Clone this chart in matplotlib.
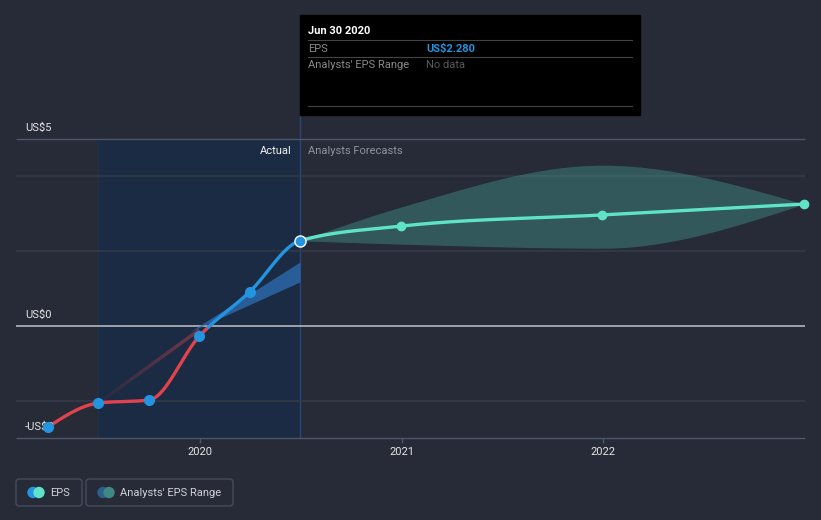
import numpy as np
import matplotlib
matplotlib.use("Agg")
import matplotlib.pyplot as plt
from matplotlib.patches import FancyBboxPatch, Rectangle, Circle
from matplotlib.collections import LineCollection

plt.rcParams['font.family'] = ['Roboto', 'DejaVu Sans']

# data (decimal years, EPS in US$)
actual_dates = [2019.246, 2019.496, 2019.747, 2019.997, 2020.246, 2020.496]
actual_eps = [-2.70, -2.06, -1.98, -0.27, 0.91, 2.28]
fc_dates = [2020.496, 2020.997, 2021.997, 2022.997]
fc_eps = [2.28, 2.67, 2.97, 3.26]
fc_low = [2.28, 2.19, 2.08, 3.26]
fc_high = [2.28, 3.18, 4.30, 3.26]
# past estimate band (Dec 2019 -> Jun 2020)
past_dates = [2019.95, 2020.496]
past_low = [-0.15, 1.18]
past_high = [-0.15, 1.71]
year_ticks = [2020, 2021, 2022]
y_labels = {5: "US$5", 0: "US$0", -3: "-US$3"}

bg = '#262b37'
blue = '#2394df'
red = '#e0434d'
teal = '#5fe3c6'


def monotone(x, y, n=400):
    # monotone cubic like d3.curveMonotoneX
    x = np.asarray(x, float); y = np.asarray(y, float)
    h = np.diff(x); d = np.diff(y) / h
    m = np.zeros_like(y)
    for k in range(1, len(x) - 1):
        if d[k - 1] * d[k] > 0:
            p = (d[k - 1] * h[k] + d[k] * h[k - 1]) / (h[k - 1] + h[k])
            m[k] = (np.sign(d[k - 1]) + np.sign(d[k])) * min(abs(d[k - 1]), abs(d[k]), 0.5 * abs(p))
    if len(x) > 2:
        m[0] = (3 * d[0] - m[1]) / 2
        m[-1] = (3 * d[-1] - m[-2]) / 2
    else:
        m[:] = d[0]
    xs = np.linspace(x[0], x[-1], n)
    idx = np.clip(np.searchsorted(x, xs) - 1, 0, len(x) - 2)
    t = (xs - x[idx]) / h[idx]
    h00 = 2 * t**3 - 3 * t**2 + 1; h10 = t**3 - 2 * t**2 + t
    h01 = -2 * t**3 + 3 * t**2; h11 = t**3 - t**2
    ys = h00 * y[idx] + h10 * h[idx] * m[idx] + h01 * y[idx + 1] + h11 * h[idx] * m[idx + 1]
    return xs, ys


W, H = 821, 520
fig = plt.figure(figsize=(W / 100, H / 100), dpi=100, facecolor=bg)

# data axes spanning the whole figure: x_px = 200 + (t-2020)*201.5, y_px = 326 - v*37.4
ax = fig.add_axes([0, 0, 1, 1])
ax.set_facecolor(bg)
ax.set_xlim(2020 - 200 / 201.5, 2020 + (W - 200) / 201.5)
ax.set_ylim(-(H - 326) / 37.4, 326 / 37.4)
ax.axis('off')

x0 = 2020 + (16 - 200) / 201.5
x1 = 2020 + (805 - 200) / 201.5

# actual region shading
ax.axvspan(actual_dates[1], actual_dates[-1], ymin=(326 - 438 + 194) / H,
           ymax=(H - 139) / H, color='#1c2b44', lw=0, zorder=0.5)
ax.vlines(actual_dates[1], -3, 5, color='#202f4c', lw=0.8, zorder=0.6)
ax.vlines(actual_dates[-1], -3, (326 - 115) / 37.4, color='#2b4577', lw=1, zorder=0.6)

# grid
ax.hlines([4, 2, -2], x0, x1, color='#343a48', lw=1.2, zorder=1)
ax.hlines(5, x0, x1, color='#4e5566', lw=1, zorder=1)
ax.hlines(0, x0, x1, color='#b4b6bc', lw=1.2, zorder=1)
ax.hlines(-3, x0, x1, color='#4e5566', lw=1, zorder=1)
for yr in year_ticks:
    ax.vlines(yr, -3, -3 - 5 / 37.4, color='#4e5566', lw=1, zorder=1)
    ax.text(yr, -3 - 14 / 37.4, str(yr), color='#e6e6e6', fontsize=8,
            ha='center', va='center')

# forecast range band
bx, bl = monotone(fc_dates, fc_low)
_, bh = monotone(fc_dates, fc_high)
ax.fill_between(bx, bl, bh, color='#4fb8ad', alpha=0.32, lw=0, zorder=2)

# past estimates: faint line and blue wedge
seg_x = np.linspace(actual_dates[1], 2019.997, 60)
seg_y = np.interp(seg_x, [actual_dates[1], 2019.997], [actual_eps[1], -0.1])
pts = np.array([seg_x, seg_y]).T.reshape(-1, 1, 2)
segs = np.concatenate([pts[:-1], pts[1:]], axis=1)
alphas = np.linspace(0.05, 0.55, len(segs))
cols = [(0.75, 0.25, 0.32, a) for a in alphas]
ax.add_collection(LineCollection(segs, colors=cols, linewidths=2.5, zorder=2))
ax.fill_between(past_dates, past_low, past_high, color='#2d6fb5', alpha=0.75, lw=0, zorder=2)

# one smooth curve through actual + forecast points, split at the last actual date
all_x = actual_dates + fc_dates[1:]
all_y = actual_eps + fc_eps[1:]
cx, cy = monotone(all_x, all_y, 1200)
past = cx <= actual_dates[-1]
ax_, ay_ = cx[past], cy[past]
ax.plot(ax_, np.where(ay_ <= 0.05, ay_, np.nan), color=red, lw=2.4, zorder=3,
        solid_capstyle='round')
ax.plot(ax_, np.where(ay_ >= -0.05, ay_, np.nan), color=blue, lw=2.4, zorder=3,
        solid_capstyle='round')
fut = cx >= actual_dates[-1] - 0.002
ax.plot(cx[fut], cy[fut], color=teal, lw=2.4, zorder=3)

ax.plot(fc_dates[1:], fc_eps[1:], 'o', color=teal, ms=6, zorder=4)
ax.plot(actual_dates[:-1], actual_eps[:-1], 'o', color=blue, ms=7, zorder=4)
ax.plot(actual_dates[-1], actual_eps[-1], 'o', color=blue, ms=8, mec='white',
        mew=1, zorder=5)

# y labels
label_y = {5: 5 + 11 / 37.4, 0: 11 / 37.4, -3: (326 - 427) / 37.4}
for v, s in y_labels.items():
    ax.text(2020 + (25 - 200) / 201.5, label_y[v], s, color='#e6e6e6',
            fontsize=8, ha='left', va='center', zorder=3.5)

# pixel-space overlay for annotations
ov = fig.add_axes([0, 0, 1, 1], zorder=10)
ov.set_xlim(0, W)
ov.set_ylim(H, 0)
ov.axis('off')
ov.patch.set_alpha(0)

ov.text(292, 151, "Actual", color='#f0f0f0', fontsize=8, ha='right', va='center')
ov.text(308, 151, "Analysts Forecasts", color='#8f939b', fontsize=8, ha='left', va='center')

# tooltip
ov.add_patch(Rectangle((300, 15), 340, 100, color='black', zorder=1))
for yy in [40, 57, 106]:
    ov.plot([308, 632], [yy, yy], color='#444444', lw=0.8, zorder=2)
ov.text(308, 31, "Jun 30 2020", color='white', fontsize=8, fontweight='bold',
        va='center', zorder=3)
ov.text(308, 48.5, "EPS", color='#8a8a8a', fontsize=8, va='center', zorder=3)
ov.text(426, 48.5, "US$2.280", color=blue, fontsize=8, fontweight='bold',
        va='center', zorder=3)
ov.text(308, 65.5, "Analysts' EPS Range", color='#8a8a8a', fontsize=8, va='center', zorder=3)
ov.text(426, 65.5, "No data", color='#5a5a5a', fontsize=8, va='center', zorder=3)

# legend buttons
for (lx, lw, c1, c2, label) in [(16, 66, blue, teal, "EPS"),
                                (86, 147, '#2b5f8c', '#3f8883', "Analysts' EPS Range")]:
    ov.add_patch(FancyBboxPatch((lx, 479), lw, 27, boxstyle="round,pad=0,rounding_size=3",
                                fc='none', ec='#464c5a', lw=1))
    ov.add_patch(Circle((lx + 17, 492.5), 5, color=c1, zorder=2))
    ov.add_patch(Circle((lx + 23, 492.5), 5, color=c2, zorder=3))
    ov.text(lx + 34, 492.5, label, color='#d0d2d6', fontsize=8, va='center')

fig.savefig("out.png", dpi=100, facecolor=bg)
